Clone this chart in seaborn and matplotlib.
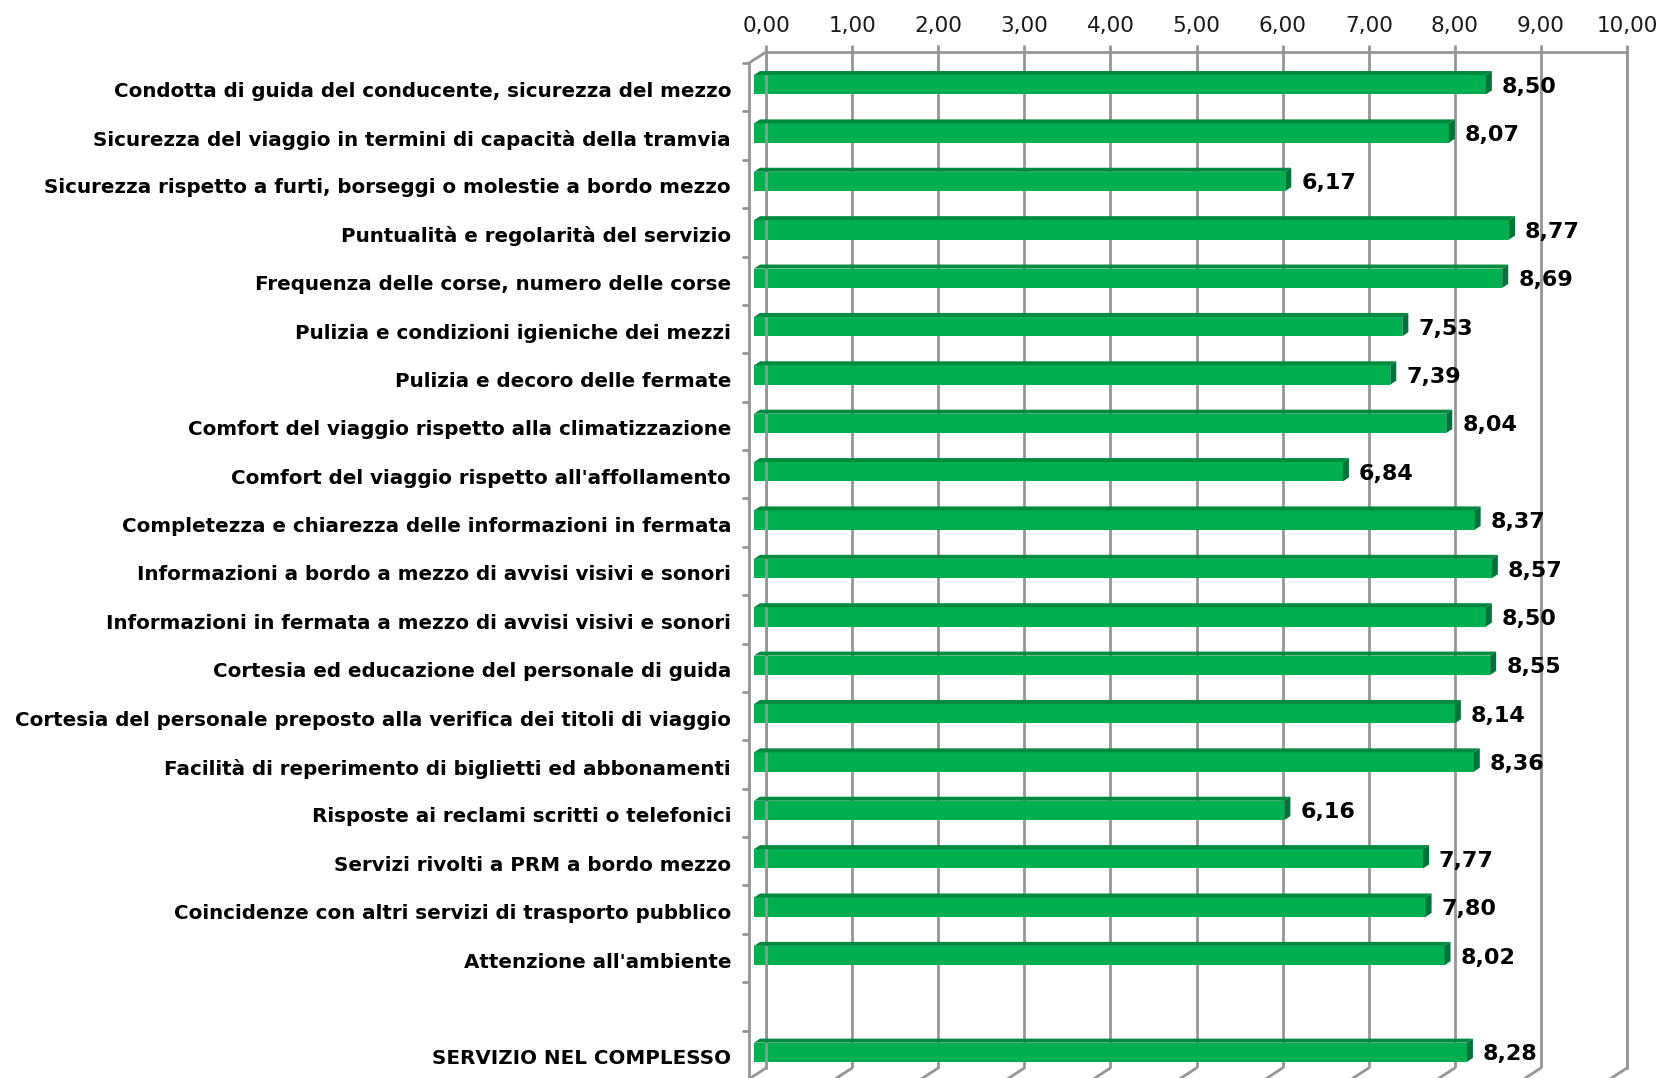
import numpy as np
import pandas as pd
import matplotlib
matplotlib.use("Agg")
import matplotlib.pyplot as plt
import seaborn as sns
from matplotlib.transforms import ScaledTranslation, IdentityTransform
from matplotlib.patches import Polygon
from matplotlib.lines import Line2D

# ---- data -------------------------------------------------------------
categories = [
    "Condotta di guida del conducente, sicurezza del mezzo",
    "Sicurezza del viaggio in termini di capacità della tramvia",
    "Sicurezza rispetto a furti, borseggi o molestie a bordo mezzo",
    "Puntualità e regolarità del servizio",
    "Frequenza delle corse, numero delle corse",
    "Pulizia e condizioni igieniche dei mezzi",
    "Pulizia e decoro delle fermate",
    "Comfort del viaggio rispetto alla climatizzazione",
    "Comfort del viaggio rispetto all'affollamento",
    "Completezza e chiarezza delle informazioni in fermata",
    "Informazioni a bordo a mezzo di avvisi visivi e sonori",
    "Informazioni in fermata a mezzo di avvisi visivi e sonori",
    "Cortesia ed educazione del personale di guida",
    "Cortesia del personale preposto alla verifica dei titoli di viaggio",
    "Facilità di reperimento di biglietti ed abbonamenti",
    "Risposte ai reclami scritti o telefonici",
    "Servizi rivolti a PRM a bordo mezzo",
    "Coincidenze con altri servizi di trasporto pubblico",
    "Attenzione all'ambiente",
]
scores = [8.50, 8.07, 6.17, 8.77, 8.69, 7.53, 7.39, 8.04, 6.84, 8.37,
          8.57, 8.50, 8.55, 8.14, 8.36, 6.16, 7.77, 7.80, 8.02]
overall_label = "SERVIZIO NEL COMPLESSO"
overall_score = 8.28
x_ticks = np.arange(0, 11, 1)

# ---- styling ------------------------------------------------------------
GREEN = "#00B050"
GREEN_TOP = "#008A3E"
GREEN_SIDE = "#00733A"
GRID = "#969696"
DPI = 100

sns.set_theme(style="white")
plt.rcParams["font.family"] = ["DejaVu Sans"]

df = pd.DataFrame({
    "item": categories + [overall_label],
    "score": scores + [overall_score],
})
gap = " "
order = categories + [gap, overall_label]

fig = plt.figure(figsize=(16.64, 10.78), dpi=DPI)
fig.patch.set_facecolor("white")
W, H = 1664, 1078
ax = fig.add_axes([766 / W, 10 / H, 861 / W, 1016 / H])

sns.barplot(data=df, x="score", y="item", order=order, orient="h",
            color=GREEN, saturation=1, width=0.40, errorbar=None, ax=ax)

ax.set_xlim(0, 10)
ax.set_ylim(len(order) - 0.5, -0.5)
ax.set_xlabel("")
ax.set_ylabel("")
ax.set_yticks([])

# value axis on top
ax.xaxis.tick_top()
ax.set_xticks(x_ticks)
ax.set_xticklabels([f"{t:.2f}".replace(".", ",") for t in x_ticks])
ax.tick_params(axis="x", top=True, bottom=False, labeltop=True, labelbottom=False,
               length=5, width=2, color=GRID, pad=6.5, labelsize=15.5,
               labelcolor="#1a1a1a")
ax.grid(axis="x", color=GRID, linewidth=2)
ax.set_axisbelow(True)
for side in ("top", "left", "right"):
    ax.spines[side].set_visible(True)
    ax.spines[side].set_color(GRID)
    ax.spines[side].set_linewidth(2)
ax.spines["bottom"].set_visible(False)
ax.set_facecolor("white")


def shifted(dx, dy):
    """Data transform followed by a pixel offset (dx right, dy up)."""
    return ax.transData + ScaledTranslation(dx / DPI, dy / DPI, fig.dpi_scale_trans)


# 3-D look: front face shifted toward the viewer, top and side faces behind
FACE_DX, FACE_DY = -12, -8.5
DEPTH_DX, DEPTH_DY = 6, 4
for p in list(ax.patches):
    p.set_linewidth(0)
    p.set_clip_on(False)
    p.set_transform(shifted(FACE_DX, FACE_DY))
    x0, y0 = ax.transData.transform((p.get_x(), p.get_y()))
    x1, y1 = ax.transData.transform((p.get_x() + p.get_width(), p.get_y() + p.get_height()))
    L, R = min(x0, x1) + FACE_DX, max(x0, x1) + FACE_DX
    B, T = min(y0, y1) + FACE_DY, max(y0, y1) + FACE_DY
    top = Polygon([(L, T), (R, T), (R + DEPTH_DX, T + DEPTH_DY), (L + DEPTH_DX, T + DEPTH_DY)],
                  closed=True, facecolor=GREEN_TOP, edgecolor="none",
                  transform=IdentityTransform(), zorder=3)
    side = Polygon([(R, T), (R + DEPTH_DX, T + DEPTH_DY), (R + DEPTH_DX, B + DEPTH_DY), (R, B)],
                   closed=True, facecolor=GREEN_SIDE, edgecolor="none",
                   transform=IdentityTransform(), zorder=3)
    fig.add_artist(top)
    fig.add_artist(side)

# side wall and floor edges of the 3-D frame
WALL_DX, WALL_DY = -17, -11
bx0, by_top = ax.transData.transform((0, -0.5))
_, by_bot = ax.transData.transform((0, len(order) - 0.5))
wall_x = bx0 + WALL_DX
fig.add_artist(Line2D([bx0, wall_x], [by_top, by_top + WALL_DY], color=GRID, lw=2,
                      transform=IdentityTransform()))
fig.add_artist(Line2D([wall_x, wall_x], [by_top + WALL_DY, -20], color=GRID, lw=2,
                      transform=IdentityTransform()))
for b in np.arange(-0.5, len(order), 1.0):
    _, yb = ax.transData.transform((0, b))
    fig.add_artist(Line2D([wall_x - 6, wall_x], [yb + WALL_DY, yb + WALL_DY], color=GRID,
                          lw=2, transform=IdentityTransform()))
for t in x_ticks:
    xb, _ = ax.transData.transform((t, 0))
    fig.add_artist(Line2D([xb, xb + 2 * WALL_DX], [by_bot, by_bot + 2 * WALL_DY],
                          color=GRID, lw=2, transform=IdentityTransform()))

# category labels, aligned with the front of the frame
for i, name in enumerate(order):
    if name == gap:
        continue
    ax.text(0, i, name, transform=shifted(-35, -15), ha="right", va="center",
            fontsize=14.35, fontweight="bold", color="black", clip_on=False)

# value labels at the end of each bar
for name, val in zip(df["item"], df["score"]):
    i = order.index(name)
    ax.text(val, i, f"{val:.2f}".replace(".", ","), transform=shifted(4, -10.5),
            ha="left", va="center", fontsize=16, fontweight="bold",
            color="black", clip_on=False)

fig.savefig("out.png", dpi=DPI, facecolor="white")
